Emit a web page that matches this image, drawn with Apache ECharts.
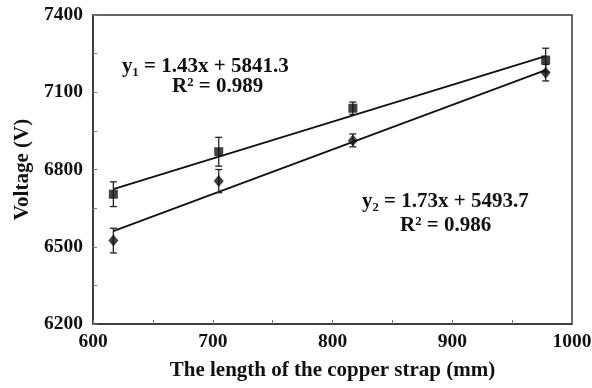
<!DOCTYPE html>
<html><head><meta charset="utf-8">
<script src="https://cdn.jsdelivr.net/npm/echarts@6/dist/echarts.min.js"></script>
<style>html,body{margin:0;padding:0;background:#fff}#c{width:592px;height:388px}</style>
</head><body><div id="c"></div>
<script>
const xLen = [617, 705, 817, 978];
const ySquare = [6704, 6869, 7038, 7225];
const errSquare = [48, 56, 24, 46];
const yDiamond = [6524, 6755, 6913, 7176];
const errDiamond = [48, 45, 25, 32];
const trend1 = [[617, 6724], [978, 7240]];
const trend2 = [[617, 6561], [978, 7186]];
const eq1 = ['y\u2081 = 1.43x + 5841.3', 'R\u00b2 = 0.989'];
const eq2 = ['y\u2082 = 1.73x + 5493.7', 'R\u00b2 = 0.986'];

const FONT = '"Liberation Serif", "Times New Roman", serif';
const chart = echarts.init(document.getElementById('c'), null, {renderer: 'canvas'});

function errSeries(ys, errs) {
  return {
    type: 'custom',
    data: xLen.map((x, i) => [x, ys[i] - errs[i], ys[i] + errs[i]]),
    renderItem: function (params, api) {
      const lo = api.coord([api.value(0), api.value(1)]);
      const hi = api.coord([api.value(0), api.value(2)]);
      const w = 3.5;
      const st = {stroke: '#222', lineWidth: 1.3};
      return {type: 'group', children: [
        {type: 'line', shape: {x1: lo[0], y1: lo[1], x2: hi[0], y2: hi[1]}, style: st},
        {type: 'line', shape: {x1: lo[0] - w, y1: lo[1], x2: lo[0] + w, y2: lo[1]}, style: st},
        {type: 'line', shape: {x1: hi[0] - w, y1: hi[1], x2: hi[0] + w, y2: hi[1]}, style: st}
      ]};
    },
    z: 2, silent: true
  };
}

chart.setOption({
  animation: false,
  grid: {left: 93, right: 20, top: 15, bottom: 64, containLabel: false, outerBoundsMode: 'none',
    show: true, borderColor: '#333', borderWidth: 1.5},
  xAxis: {
    type: 'value', min: 600, max: 1000, interval: 50,
    name: 'The length of the copper strap (mm)', nameLocation: 'middle', nameGap: 36,
    nameTextStyle: {fontFamily: FONT, fontWeight: 'bold', fontSize: 21, color: '#111'},
    axisLine: {show: true, lineStyle: {color: '#333', width: 1.5}},
    axisTick: {show: true, inside: true, length: 4, lineStyle: {color: '#777'}},
    axisLabel: {fontFamily: FONT, fontWeight: 'bold', fontSize: 19.5, color: '#111', margin: 8,
      formatter: v => (v % 100 === 0 ? String(v) : '')},
    splitLine: {show: false}
  },
  yAxis: {
    type: 'value', min: 6200, max: 7400, interval: 150,
    name: 'Voltage (V)', nameLocation: 'middle', nameGap: 60,
    nameTextStyle: {fontFamily: FONT, fontWeight: 'bold', fontSize: 21, color: '#111'},
    axisLine: {show: true, lineStyle: {color: '#333', width: 1.5}},
    axisTick: {show: true, inside: true, length: 4, lineStyle: {color: '#777'}},
    axisLabel: {fontFamily: FONT, fontWeight: 'bold', fontSize: 19.5, color: '#111', margin: 10,
      formatter: v => ((v - 6200) % 300 === 0 ? String(v) : '')},
    splitLine: {show: false}
  },
  series: [
    {type: 'line', data: trend1, symbol: 'none', lineStyle: {color: '#111', width: 1.8}, z: 1},
    {type: 'line', data: trend2, symbol: 'none', lineStyle: {color: '#111', width: 1.8}, z: 1},
    errSeries(ySquare, errSquare),
    errSeries(yDiamond, errDiamond),
    {type: 'scatter', data: xLen.map((x, i) => [x, ySquare[i]]), symbol: 'rect', symbolSize: 9,
      itemStyle: {color: '#111'}, z: 3},
    {type: 'scatter', data: xLen.map((x, i) => [x, yDiamond[i]]), symbol: 'diamond', symbolSize: [10, 12],
      itemStyle: {color: '#111'}, z: 3}
  ],
  graphic: [
    {type: 'text', left: 122, top: 56, style: {text: eq1[0], font: 'bold 21px ' + FONT, fill: '#111'}},
    {type: 'text', left: 172, top: 76, style: {text: eq1[1], font: 'bold 21px ' + FONT, fill: '#111'}},
    {type: 'text', left: 362, top: 191, style: {text: eq2[0], font: 'bold 21px ' + FONT, fill: '#111'}},
    {type: 'text', left: 400, top: 215, style: {text: eq2[1], font: 'bold 21px ' + FONT, fill: '#111'}}
  ]
});
</script></body></html>
